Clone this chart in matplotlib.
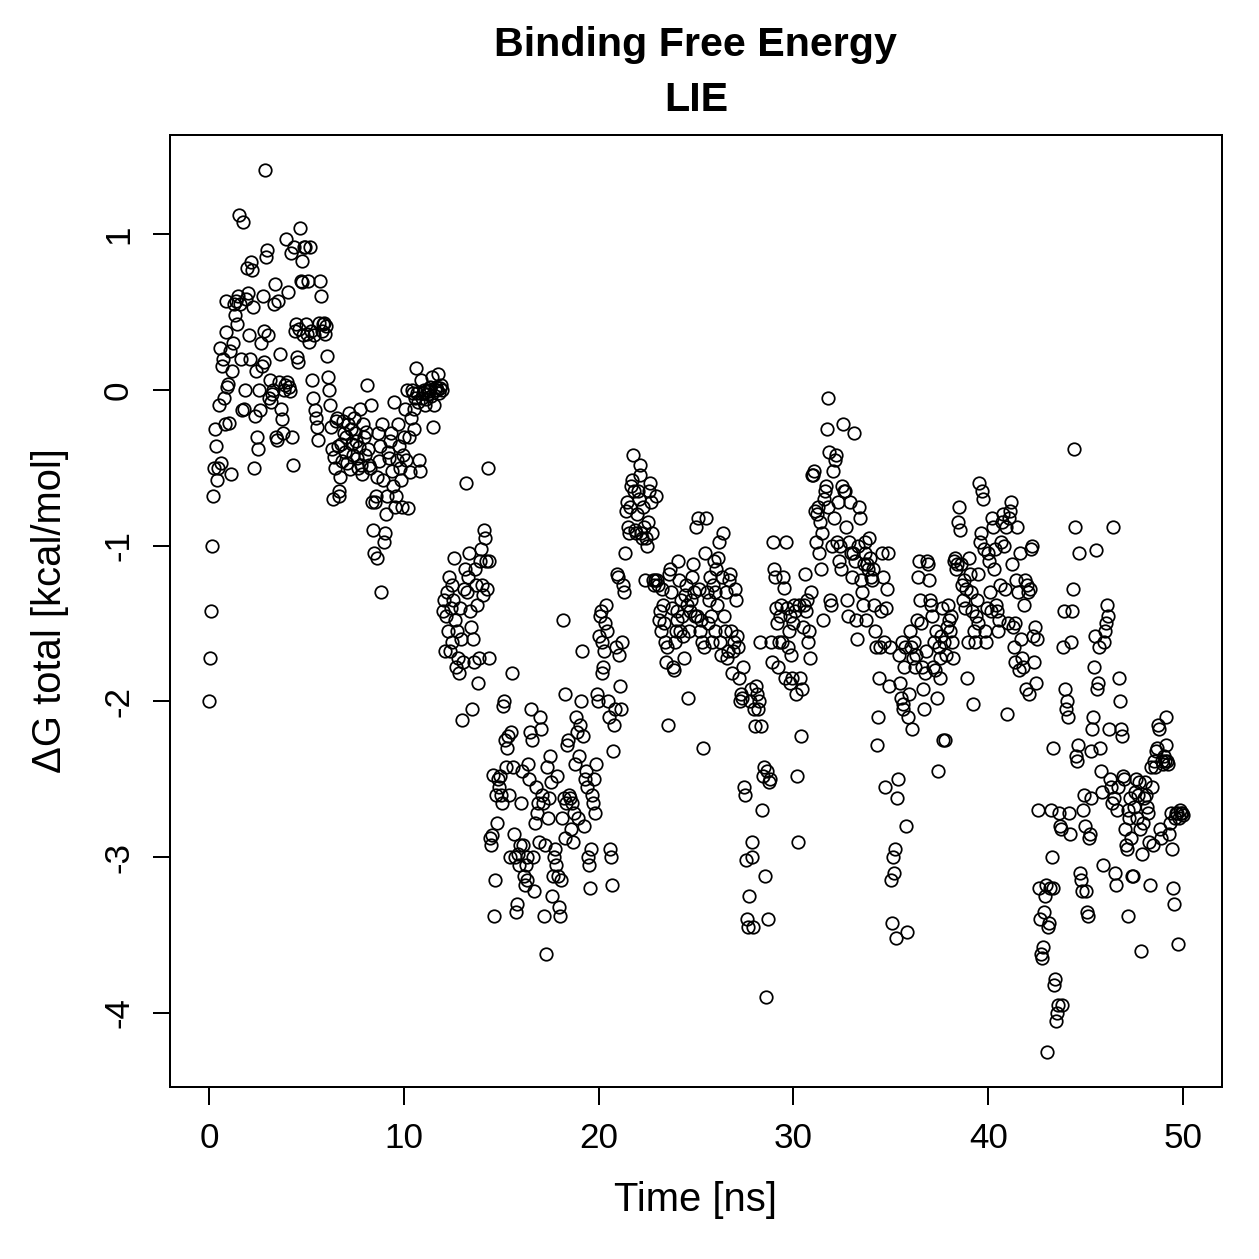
import numpy as np
import matplotlib
matplotlib.use("Agg")
import matplotlib.pyplot as plt

# Time axis: 1001 frames, one every 0.05 ns
time_ns = np.linspace(0, 50, 1001)

# LIE binding free energy per frame [kcal/mol] (20 frames per ns)
dg_total = [
    # 0-1
    -2.0, -1.72, -1.42, -1.0, -0.68, -0.5, -0.25, -0.36, -0.58, -0.5, -0.1, 0.27, -0.47, 0.15, 0.2, -0.05, -0.22, 0.37, 0.57, 0.02,
    # 1-2
    0.04, -0.21, 0.25, -0.54, 0.12, 0.3, 0.55, 0.48, 0.57, 0.42, 0.6, 1.12, 0.55, 0.2, -0.13, 1.08, -0.12, 0.0, 0.58, 0.78,
    # 2-3
    0.62, 0.35, 0.2, 0.82, 0.77, 0.53, -0.5, -0.17, 0.12, -0.3, -0.38, 0.0, -0.13, 0.3, 0.15, 0.6, 0.18, 0.38, 1.41, 0.85,
    # 3-4
    0.9, 0.35, -0.05, 0.06, -0.08, -0.03, 0.0, 0.55, 0.68, -0.3, -0.32, 0.57, 0.05, 0.23, -0.12, -0.19, -0.28, 0.0, 0.03, 0.97,
    # 4-5
    0.05, 0.63, 0.02, -0.01, 0.88, -0.3, -0.48, 0.92, 0.38, 0.42, 0.21, 0.18, 0.39, 1.04, 0.7, 0.83, 0.69, 0.35, 0.92, 0.92,
    # 5-6
    0.42, 0.36, 0.7, 0.31, 0.92, 0.38, 0.06, -0.05, 0.35, -0.13, -0.18, -0.24, -0.32, 0.43, 0.7, 0.6, 0.38, 0.42, 0.43, 0.36,
    # 6-7
    0.41, 0.22, 0.08, 0.0, -0.1, -0.24, -0.38, -0.7, -0.43, -0.5, -0.2, -0.18, -0.36, -0.68, -0.65, -0.56, -0.35, -0.46, -0.2, -0.28,
    # 7-8
    -0.4, -0.3, -0.47, -0.22, -0.15, -0.51, -0.25, -0.35, -0.42, -0.18, -0.28, -0.33, -0.44, -0.5, -0.37, -0.12, -0.48, -0.54, -0.22, -0.3,
    # 8-9
    -0.42, -0.27, 0.03, -0.38, -0.48, -0.5, -0.1, -0.72, -0.9, -1.05, -0.72, -0.68, -1.08, -0.56, -0.28, -0.46, -0.36, -1.3, -0.22, -0.58,
    # 9-10
    -0.98, -0.92, -0.8, -0.68, -0.4, -0.44, -0.33, -0.28, -0.52, -0.62, -0.08, -0.75, -0.68, -0.45, -0.22, -0.36, -0.5, -0.58, -0.75, -0.42,
    # 10-11
    -0.3, -0.12, -0.45, 0.0, -0.76, -0.3, -0.53, -0.18, 0.0, -0.02, -0.12, -0.25, -0.05, 0.14, -0.02, -0.08, -0.45, -0.52, 0.06, -0.05,
    # 11-12
    -0.02, 0.0, -0.1, -0.06, 0.0, -0.03, -0.01, 0.02, -0.04, 0.08, -0.24, -0.1, 0.0, 0.02, 0.0, 0.1, -0.02, 0.01, 0.03, 0.0,
    # 12-13
    -1.42, -1.35, -1.68, -1.45, -1.3, -1.55, -1.2, -1.68, -1.4, -1.62, -1.25, -1.35, -1.08, -1.48, -1.78, -1.55, -1.72, -1.82, -1.4, -1.6,
    # 13-14
    -2.12, -1.75, -1.28, -1.15, -0.6, -1.3, -1.2, -1.05, -1.42, -1.52, -2.05, -1.6, -1.75, -1.15, -1.25, -1.38, -1.88, -1.72, -1.1, -1.02,
    # 14-15
    -1.25, -1.32, -0.9, -0.95, -1.1, -1.28, -0.5, -1.72, -1.1, -2.88, -2.92, -2.86, -2.47, -3.38, -3.15, -2.6, -2.78, -2.5, -2.55, -2.48,
    # 15-16
    -2.6, -2.65, -2.03, -2.0, -2.25, -2.42, -2.3, -2.22, -2.6, -3.0, -2.2, -1.82, -2.42, -2.85, -3.0, -3.35, -3.3, -2.98, -3.05, -2.92,
    # 16-17
    -2.65, -2.45, -2.92, -3.12, -3.18, -3.05, -3.15, -3.0, -2.4, -2.5, -2.2, -2.05, -2.25, -3.0, -3.22, -2.78, -2.55, -2.72, -2.65, -2.9,
    # 17-18
    -2.1, -2.18, -2.6, -2.65, -3.38, -2.92, -3.62, -2.42, -2.75, -2.62, -2.35, -2.52, -3.25, -3.12, -3.0, -2.95, -3.05, -2.48, -3.12, -3.32,
    # 18-19
    -3.38, -3.15, -2.75, -1.48, -2.62, -1.95, -2.88, -2.65, -2.28, -2.25, -2.6, -2.62, -2.82, -2.65, -2.9, -2.72, -2.4, -2.1, -2.2, -2.75,
    # 19-20
    -2.35, -2.15, -2.0, -1.68, -2.22, -2.8, -2.5, -2.45, -2.55, -3.0, -3.05, -3.2, -2.95, -2.6, -2.65, -2.5, -2.72, -2.4, -1.95, -2.0,
    # 20-21
    -1.58, -1.45, -1.42, -1.62, -1.82, -1.78, -1.68, -1.5, -1.38, -1.55, -2.0, -2.1, -2.95, -3.0, -3.18, -2.32, -2.15, -2.05, -1.65, -1.18,
    # 21-22
    -1.2, -1.7, -1.9, -2.05, -1.62, -1.25, -1.3, -1.05, -0.78, -0.72, -0.88, -0.92, -0.75, -0.62, -0.58, -0.42, -0.65, -0.9, -0.92, -0.8,
    # 22-23
    -0.65, -0.7, -0.55, -0.48, -0.92, -0.95, -0.75, -0.88, -1.22, -0.95, -1.0, -0.85, -0.65, -0.6, -0.72, -0.92, -1.22, -1.25, -1.22, -0.68,
    # 23-24
    -1.22, -1.25, -1.48, -1.42, -1.55, -1.28, -1.38, -1.5, -1.62, -1.75, -1.65, -2.15, -1.18, -1.15, -1.3, -1.4, -1.78, -1.8, -1.62, -1.55,
    # 24-25
    -1.42, -1.48, -1.1, -1.22, -1.55, -1.35, -1.45, -1.58, -1.72, -1.32, -1.25, -1.38, -1.98, -1.55, -1.42, -1.35, -1.2, -1.12, -1.3, -1.45,
    # 25-26
    -0.88, -1.45, -0.82, -1.28, -1.55, -1.48, -1.62, -2.3, -1.65, -1.05, -0.82, -1.3, -1.5, -1.35, -1.2, -1.45, -1.62, -1.25, -1.1, -1.55,
    # 26-27
    -1.3, -1.15, -1.38, -1.08, -0.98, -1.62, -1.7, -1.2, -0.92, -1.45, -1.55, -1.3, -1.72, -1.68, -1.22, -1.18, -1.55, -1.82, -1.68, -1.62,
    # 27-28
    -1.28, -1.35, -1.58, -1.65, -1.85, -2.0, -1.95, -1.98, -1.78, -2.55, -2.6, -3.02, -3.4, -3.45, -3.25, -2.0, -1.92, -2.9, -3.0, -3.45,
    # 28-29
    -2.05, -2.16, -1.9, -1.95, -2.05, -2.0, -1.62, -2.16, -2.7, -2.48, -2.42, -3.12, -3.9, -2.45, -3.4, -2.52, -2.5, -1.62, -1.75, -0.98,
    # 29-30
    -1.15, -1.2, -1.4, -1.5, -1.78, -1.62, -1.45, -1.38, -1.62, -1.2, -1.27, -1.85, -0.98, -1.4, -1.65, -1.55, -1.45, -1.88, -1.7, -1.85,
    # 30-31
    -1.5, -1.38, -1.42, -1.95, -2.48, -2.9, -1.38, -1.85, -2.22, -1.92, -1.52, -1.38, -1.18, -1.42, -1.35, -1.62, -1.55, -1.72, -1.3, -0.55,
    # 31-32
    -0.55, -0.52, -0.78, -0.98, -0.8, -0.75, -1.05, -0.85, -1.15, -0.92, -1.48, -0.7, -0.65, -0.62, -0.25, -0.05, -0.75, -0.4, -1.35, -1.38,
    # 32-33
    -1.0, -0.52, -0.82, -0.45, -0.42, -0.98, -0.72, -1.1, -1.0, -1.15, -0.62, -0.22, -0.65, -0.65, -0.88, -1.35, -1.45, -0.98, -0.72, -1.05,
    # 33-34
    -1.2, -1.05, -0.28, -1.1, -1.48, -1.6, -1.0, -0.75, -0.82, -1.22, -1.3, -1.38, -1.12, -1.05, -0.98, -1.48, -1.12, -1.15, -0.95, -1.08,
    # 34-35
    -1.2, -1.22, -1.15, -1.38, -1.55, -1.65, -2.28, -2.1, -1.85, -1.65, -1.42, -1.05, -1.2, -1.62, -2.55, -1.4, -1.28, -1.05, -1.9, -1.65,
    # 35-36
    -3.15, -3.42, -3.0, -3.1, -2.95, -3.52, -2.62, -2.5, -1.7, -1.88, -1.98, -1.62, -2.05, -2.02, -1.78, -1.65, -2.8, -3.48, -2.1, -1.95,
    # 36-37
    -1.55, -1.65, -2.18, -1.72, -1.62, -1.78, -1.7, -1.48, -1.2, -1.1, -1.35, -1.5, -1.78, -1.92, -2.05, -1.82, -1.68, -1.1, -1.12, -1.22,
    # 37-38
    -1.35, -1.38, -1.45, -1.78, -1.62, -1.8, -1.55, -1.98, -2.45, -1.65, -1.85, -1.72, -1.58, -1.4, -2.25, -1.62, -2.25, -1.7, -1.52, -1.38,
    # 38-39
    -1.48, -1.55, -1.45, -1.62, -1.72, -1.1, -1.08, -1.15, -1.12, -0.85, -0.75, -0.9, -1.12, -1.25, -1.35, -1.22, -1.4, -1.28, -1.85, -1.62,
    # 39-40
    -1.08, -1.18, -1.3, -1.42, -2.02, -1.55, -1.62, -1.45, -1.35, -1.18, -1.5, -0.6, -0.98, -0.92, -0.65, -0.7, -1.02, -1.55, -1.62, -1.4,
    # 40-41
    -1.05, -1.1, -1.3, -1.42, -0.82, -0.88, -1.15, -1.02, -1.38, -1.42, -1.55, -1.48, -1.25, -0.98, -0.85, -0.8, -1.0, -1.28, -0.88, -2.08,
    # 41-42
    -1.5, -0.82, -0.78, -0.72, -1.12, -1.52, -1.65, -1.75, -1.5, -1.22, -0.88, -1.3, -1.8, -1.05, -1.6, -1.72, -1.78, -1.38, -1.22, -1.92,
    # 42-43
    -1.25, -1.3, -1.95, -1.28, -1.02, -1.0, -1.58, -1.75, -1.52, -1.88, -1.6, -2.7, -3.2, -3.4, -3.62, -3.65, -3.58, -3.35, -3.25, -3.18,
    # 43-44
    -4.25, -3.45, -3.42, -3.2, -2.7, -3.0, -3.2, -2.3, -3.82, -3.78, -4.05, -4.0, -3.95, -2.72, -2.8, -2.82, -3.95, -1.65, -1.42, -1.92,
    # 44-45
    -2.05, -2.0, -2.1, -2.72, -2.85, -1.62, -1.42, -1.28, -0.38, -0.88, -2.35, -2.38, -2.28, -1.05, -3.1, -3.15, -3.22, -2.7, -2.6, -2.8,
    # 45-46
    -3.22, -3.35, -3.38, -2.88, -2.85, -2.62, -2.32, -2.18, -2.1, -1.78, -1.58, -1.03, -1.92, -1.88, -1.65, -2.3, -2.45, -2.58, -3.05, -1.62,
    # 46-47
    -1.55, -1.5, -1.38, -1.45, -2.18, -2.5, -2.55, -2.65, -0.88, -2.62, -3.1, -3.18, -2.7, -2.55, -1.85, -2.0, -2.18, -2.22, -2.48, -2.5,
    # 47-48
    -2.82, -2.92, -2.95, -3.38, -2.7, -2.75, -2.62, -2.88, -3.12, -3.12, -2.68, -2.58, -2.5, -2.75, -2.6, -2.52, -2.82, -3.6, -2.98, -2.78,
    # 48-49
    -2.62, -2.52, -2.6, -2.68, -2.72, -2.9, -3.18, -2.42, -2.55, -2.92, -2.38, -2.42, -2.32, -2.3, -2.15, -2.18, -2.82, -2.88, -2.38, -2.4,
    # 49-50
    -2.35, -2.38, -2.1, -2.28, -2.38, -2.4, -2.85, -2.78, -2.72, -2.95, -3.2, -3.3, -2.75, -2.72, -2.72, -3.56, -2.75, -2.7, -2.72, -2.72,
    -2.73,
]

x_ticks = [0, 10, 20, 30, 40, 50]
y_ticks = [-4, -3, -2, -1, 0, 1]

plt.rcParams["font.family"] = ["Liberation Sans", "DejaVu Sans"]

W = 1259
fig = plt.figure(figsize=(W / 180, W / 180), dpi=180)
ax = fig.add_axes([170 / W, 1 - 1087 / W, (1222 - 170) / W, (1087 - 135) / W])

ax.plot(time_ns, dg_total, "o", mfc="none", mec="black", ms=5.0, mew=0.7)

ax.set_xlim(-2, 52)
ax.set_ylim(-4.476, 1.636)
ax.set_xticks(x_ticks)
ax.set_yticks(y_ticks)
ax.set_yticklabels([str(v) for v in y_ticks], rotation=90, va="center")
ax.tick_params(length=7, width=0.8, labelsize=14, pad=7)
for s in ax.spines.values():
    s.set_linewidth(0.8)

ax.set_xlabel("Time [ns]", fontsize=16, va="center")
ax.xaxis.set_label_coords(0.5, (1087 - 1200) / (1087 - 135))
ax.set_ylabel("ΔG total [kcal/mol]", fontsize=16, va="center")
ax.yaxis.set_label_coords((50 - 170) / (1222 - 170), 0.5)

# two-line title, centred over the plot region
ax.text(0.5, (1087 - 45) / (1087 - 135), "Binding Free Energy", transform=ax.transAxes,
        ha="center", va="center", fontsize=16.5, fontweight="bold")
ax.text(0.5, (1087 - 100) / (1087 - 135), "LIE", transform=ax.transAxes,
        ha="center", va="center", fontsize=16.5, fontweight="bold")

fig.savefig("out.png", dpi=180)
